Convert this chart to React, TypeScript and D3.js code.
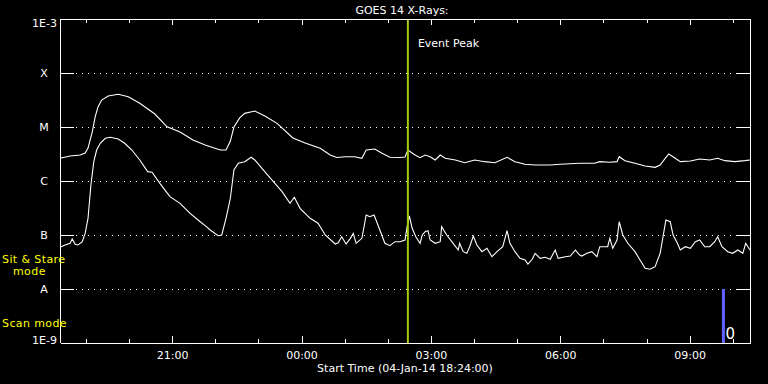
import React, { useEffect, useRef } from 'react';
import * as d3 from 'd3';

// minutes after the start time (04-Jan-14 18:24:00 UT)
const longMinutes = [
  0, 14, 28, 35, 39, 45, 49, 53, 58, 67, 81, 95, 111, 132, 149, 167, 185, 202, 223, 231,
  237, 242, 250, 257, 271, 285, 302, 324, 341, 362, 376, 385, 397, 410, 420, 426, 438, 448,
  459, 473, 480, 484, 494, 501, 508, 515, 522, 529, 536, 550, 563, 577, 591, 605, 622, 633,
  647, 661, 682, 696, 723, 744, 751, 765, 775, 778, 786, 800, 814, 828, 835, 842, 847, 856,
  863, 877, 890, 904, 915, 925, 939, 953, 960,
];
// 1-8 Angstrom flux, W/m^2
const longFlux = [
  2.63e-6, 2.9e-6, 3.03e-6, 3.3e-6, 4.08e-6, 8.18e-6, 1.55e-5, 2.38e-5, 3.16e-5, 3.75e-5,
  4.03e-5, 3.64e-5, 2.75e-5, 1.74e-5, 1.01e-5, 8.08e-6, 5.74e-6, 4.64e-6, 3.75e-6, 3.75e-6,
  5.5e-6, 1.0e-5, 1.47e-5, 1.79e-5, 1.98e-5, 1.6e-5, 1.17e-5, 6.25e-6, 5.05e-6, 4.03e-6,
  3.03e-6, 2.72e-6, 2.82e-6, 2.82e-6, 2.63e-6, 3.75e-6, 3.91e-6, 3.26e-6, 2.75e-6, 2.72e-6,
  2.78e-6, 3.75e-6, 3.03e-6, 2.7e-6, 3.03e-6, 2.82e-6, 2.45e-6, 3.03e-6, 2.63e-6, 2.45e-6,
  2.18e-6, 2.45e-6, 2.28e-6, 2.18e-6, 2.75e-6, 2.28e-6, 2.04e-6, 1.98e-6, 1.98e-6, 2.04e-6,
  2.13e-6, 2.13e-6, 2.28e-6, 2.22e-6, 2.28e-6, 2.82e-6, 2.38e-6, 2.13e-6, 1.9e-6, 1.79e-6,
  1.98e-6, 2.63e-6, 3.16e-6, 2.63e-6, 2.28e-6, 2.34e-6, 2.56e-6, 2.45e-6, 2.63e-6, 2.38e-6,
  2.28e-6, 2.38e-6, 2.45e-6,
];

const shortMinutes = [
  0, 7, 14, 17, 21, 25, 31, 35, 39, 43, 47, 51, 56, 63, 70, 81, 90, 100, 111, 122, 128, 139,
  153, 167, 181, 195, 202, 209, 220, 225, 231, 237, 242, 248, 257, 266, 271, 281, 289, 299,
  309, 320, 326, 334, 348, 359, 369, 383, 387, 392, 398, 404, 408, 412, 420, 426, 431, 437,
  445, 452, 459, 466, 473, 480, 483, 486, 490, 495, 501, 504, 508, 512, 515, 522, 529, 531,
  538, 547, 554, 556, 561, 566, 570, 575, 580, 587, 594, 601, 608, 616, 622, 626, 633, 640,
  647, 651, 657, 661, 668, 675, 682, 689, 693, 703, 710, 717, 723, 726, 733, 740, 747, 751,
  758, 762, 765, 769, 775, 778, 783, 790, 800, 807, 814, 821, 828, 835, 839, 843, 849, 853,
  859, 863, 870, 877, 884, 890, 897, 904, 911, 915, 921, 929, 936, 943, 950, 954, 960,
];
// 0.5-4 Angstrom flux, W/m^2
const shortFlux = [
  5.92e-8, 6.53e-8, 7.02e-8, 8.43e-8, 6.73e-8, 6.53e-8, 7.52e-8, 1.07e-7, 2.04e-7, 8.43e-7,
  2.28e-6, 3.75e-6, 4.99e-6, 6.18e-6, 6.44e-6, 6.0e-6, 4.99e-6, 3.75e-6, 2.45e-6, 1.49e-6,
  1.45e-6, 9.06e-7, 5.12e-7, 3.86e-7, 2.52e-7, 1.76e-7, 1.49e-7, 1.24e-7, 9.7e-8, 1.0e-7,
  2.04e-7, 4.79e-7, 1.6e-6, 2.13e-6, 2.28e-6, 2.75e-6, 2.45e-6, 1.72e-6, 1.29e-6, 9.06e-7,
  6.34e-7, 3.86e-7, 4.99e-7, 3.12e-7, 2.04e-7, 1.65e-7, 1.0e-7, 6.81e-8, 7.2e-8, 9.3e-8,
  6.81e-8, 8.68e-8, 1.07e-7, 7.02e-8, 8.68e-8, 2.35e-7, 2.18e-7, 2.35e-7, 1.24e-7, 7.02e-8,
  6.34e-8, 7.52e-8, 7.52e-8, 8.08e-8, 1.43e-7, 2.25e-7, 1.33e-7, 9.3e-8, 7.02e-8, 1.0e-7,
  1.15e-7, 1.2e-7, 8.08e-8, 7.02e-8, 7.52e-8, 1.43e-7, 1.0e-7, 7.02e-8, 5.27e-8, 7.02e-8,
  4.91e-8, 4.58e-8, 6.07e-8, 9.58e-8, 6.53e-8, 4.91e-8, 5.67e-8, 3.96e-8, 4.91e-8, 6.07e-8,
  1.2e-7, 7.02e-8, 4.91e-8, 3.7e-8, 3.44e-8, 2.9e-8, 3.55e-8, 4.58e-8, 3.7e-8, 3.86e-8,
  3.55e-8, 5.27e-8, 3.7e-8, 3.96e-8, 4.08e-8, 5.27e-8, 4.26e-8, 4.08e-8, 4.58e-8, 4.91e-8,
  3.96e-8, 6.07e-8, 6.07e-8, 6.07e-8, 8.68e-8, 5.67e-8, 8.08e-8, 1.76e-7, 1.0e-7, 7.02e-8,
  4.91e-8, 3.44e-8, 2.42e-8, 2.32e-8, 2.59e-8, 4.58e-8, 9.3e-8, 1.9e-7, 1.76e-7, 1.0e-7,
  7.02e-8, 5.27e-8, 6.07e-8, 5.67e-8, 7.52e-8, 8.08e-8, 6.07e-8, 6.07e-8, 7.52e-8, 9.3e-8,
  6.07e-8, 4.91e-8, 4.58e-8, 5.27e-8, 4.58e-8, 7.02e-8, 5.27e-8,
];

const classLabels = ['X', 'M', 'C', 'B', 'A'];
const classLevels = [1e-4, 1e-5, 1e-6, 1e-7, 1e-8];
const fluxRange = [1e-9, 1e-3];
const fluxRangeLabels = ['1E-9', '1E-3'];
const durationHours = 16;
const eventPeakMinute = 484;
const scanMarkMinute = 923;
const scanMarkLabel = '0';

const startTime = new Date(Date.UTC(2014, 0, 4, 18, 24));
const atMinute = (m: number) => new Date(startTime.getTime() + m * 60000);

export default function App() {
  const myRef = useRef<SVGSVGElement>(null);

  useEffect(() => {
    const W = 768;
    const H = 384;
    const margin = { top: 19, right: 18, bottom: 41, left: 60 };
    const width = W - margin.left - margin.right;
    const height = H - margin.top - margin.bottom;
    const font = 'DejaVu Sans, sans-serif';

    const svg = d3.select(myRef.current);
    svg.selectAll('*').remove();

    svg.append('rect').attr('width', W).attr('height', H).attr('fill', '#000');

    const x = d3.scaleUtc()
      .domain([startTime, atMinute(durationHours * 60)])
      .range([margin.left, margin.left + width]);

    const y = d3.scaleLog()
      .domain(fluxRange)
      .range([margin.top + height, margin.top]);

    // class level guides: short solid stubs at both ends, dotted between
    const guides = svg.append('g').attr('shape-rendering', 'crispEdges');
    classLevels.forEach((lv) => {
      const yy = Math.round(y(lv)) + 0.5;
      guides.append('line')
        .attr('x1', margin.left).attr('x2', margin.left + 14)
        .attr('y1', yy).attr('y2', yy).attr('stroke', '#fff');
      guides.append('line')
        .attr('x1', margin.left + 16).attr('x2', margin.left + width - 15)
        .attr('y1', yy).attr('y2', yy)
        .attr('stroke', '#fff').attr('stroke-dasharray', '1 5');
      guides.append('line')
        .attr('x1', margin.left + width - 14).attr('x2', margin.left + width)
        .attr('y1', yy).attr('y2', yy).attr('stroke', '#fff');
    });

    // flux curves
    const line = d3.line<[number, number]>()
      .x((d) => x(atMinute(d[0])))
      .y((d) => y(d[1]));

    const longData = longMinutes.map((m, i) => [m, longFlux[i]] as [number, number]);
    const shortData = shortMinutes.map((m, i) => [m, shortFlux[i]] as [number, number]);

    [longData, shortData].forEach((data) => {
      svg.append('path')
        .datum(data)
        .attr('d', line)
        .attr('fill', 'none')
        .attr('stroke', '#fff')
        .attr('stroke-width', 1.1);
    });

    // event peak marker
    const xp = x(atMinute(eventPeakMinute));
    svg.append('line')
      .attr('x1', xp).attr('x2', xp)
      .attr('y1', margin.top).attr('y2', margin.top + height)
      .attr('stroke', '#a4cc10').attr('stroke-width', 2);
    svg.append('text')
      .attr('x', xp + 10).attr('y', 47)
      .attr('fill', '#fff').attr('font-family', font).attr('font-size', 11)
      .text('Event Peak');

    // scan mode marker
    const xs = x(atMinute(scanMarkMinute));
    svg.append('rect')
      .attr('x', xs - 1.5).attr('width', 3)
      .attr('y', y(1e-8)).attr('height', y(1e-9) - y(1e-8))
      .attr('fill', '#6262ff');
    svg.append('text')
      .attr('x', xs + 2).attr('y', 339)
      .attr('fill', '#fff').attr('font-family', font).attr('font-size', 15)
      .text(scanMarkLabel);

    // time axes: hourly minor ticks, labelled major ticks every 3 hours
    const minorHours = d3.utcHour.every(1)!;
    const majorHours = d3.utcHour.every(3)!;
    const fmt = d3.utcFormat('%H:%M');

    const styleAxis = (g: d3.Selection<SVGGElement, unknown, null, undefined>) => {
      g.selectAll('path').attr('stroke', '#fff');
      g.selectAll('line').attr('stroke', '#fff');
      g.selectAll('text').attr('fill', '#fff').attr('font-family', font).attr('font-size', 11);
      g.attr('shape-rendering', 'crispEdges');
    };

    const bottomMinor = svg.append('g')
      .attr('transform', `translate(0,${margin.top + height})`)
      .call(d3.axisBottom(x).ticks(minorHours).tickSizeInner(-4).tickSizeOuter(0).tickFormat(() => ''));
    styleAxis(bottomMinor);
    const bottomMajor = svg.append('g')
      .attr('transform', `translate(0,${margin.top + height})`)
      .call(d3.axisBottom(x).ticks(majorHours).tickSizeInner(-7).tickSizeOuter(0).tickPadding(8)
        .tickFormat((d) => fmt(d as Date)));
    styleAxis(bottomMajor);

    const topMinor = svg.append('g')
      .attr('transform', `translate(0,${margin.top})`)
      .call(d3.axisTop(x).ticks(minorHours).tickSizeInner(-4).tickSizeOuter(0).tickFormat(() => ''));
    styleAxis(topMinor);
    const topMajor = svg.append('g')
      .attr('transform', `translate(0,${margin.top})`)
      .call(d3.axisTop(x).ticks(majorHours).tickSizeInner(-6).tickSizeOuter(0).tickFormat(() => ''));
    styleAxis(topMajor);

    // left and right frame
    const frame = svg.append('g').attr('shape-rendering', 'crispEdges').attr('stroke', '#fff');
    frame.append('line')
      .attr('x1', margin.left + 0.5).attr('x2', margin.left + 0.5)
      .attr('y1', margin.top).attr('y2', margin.top + height);
    frame.append('line')
      .attr('x1', margin.left + width + 0.5).attr('x2', margin.left + width + 0.5)
      .attr('y1', margin.top).attr('y2', margin.top + height);

    // y labels
    const labels = svg.append('g')
      .attr('fill', '#fff').attr('font-family', font).attr('font-size', 11);
    labels.append('text')
      .attr('x', margin.left - 3).attr('y', y(fluxRange[1]) + 8)
      .attr('text-anchor', 'end').text(fluxRangeLabels[1]);
    labels.append('text')
      .attr('x', margin.left - 3).attr('y', y(fluxRange[0]) + 1)
      .attr('text-anchor', 'end').text(fluxRangeLabels[0]);
    classLevels.forEach((lv, i) => {
      labels.append('text')
        .attr('x', 44).attr('y', y(lv) + 4)
        .attr('text-anchor', 'middle').text(classLabels[i]);
    });

    // mode notes
    const notes = svg.append('g')
      .attr('fill', '#ffff00').attr('font-family', font).attr('font-size', 11)
      .attr('letter-spacing', 0.4);
    notes.append('text').attr('x', 2).attr('y', 263).text('Sit & Stare');
    notes.append('text').attr('x', 13).attr('y', 275).text('mode');
    notes.append('text').attr('x', 2).attr('y', 327).text('Scan mode');

    // title and axis title
    svg.append('text')
      .attr('x', 402).attr('y', 14).attr('text-anchor', 'middle')
      .attr('fill', '#fff').attr('font-family', font).attr('font-size', 11)
      .text('GOES 14 X-Rays:');
    svg.append('text')
      .attr('x', 405).attr('y', 372).attr('text-anchor', 'middle')
      .attr('fill', '#fff').attr('font-family', font).attr('font-size', 11)
      .text('Start Time (04-Jan-14 18:24:00)');
  }, []);

  return (
    <div style={{ position: 'fixed', left: 0, top: 0 }}>
      <svg ref={myRef} width={768} height={384} style={{ display: 'block' }} />
    </div>
  );
}
